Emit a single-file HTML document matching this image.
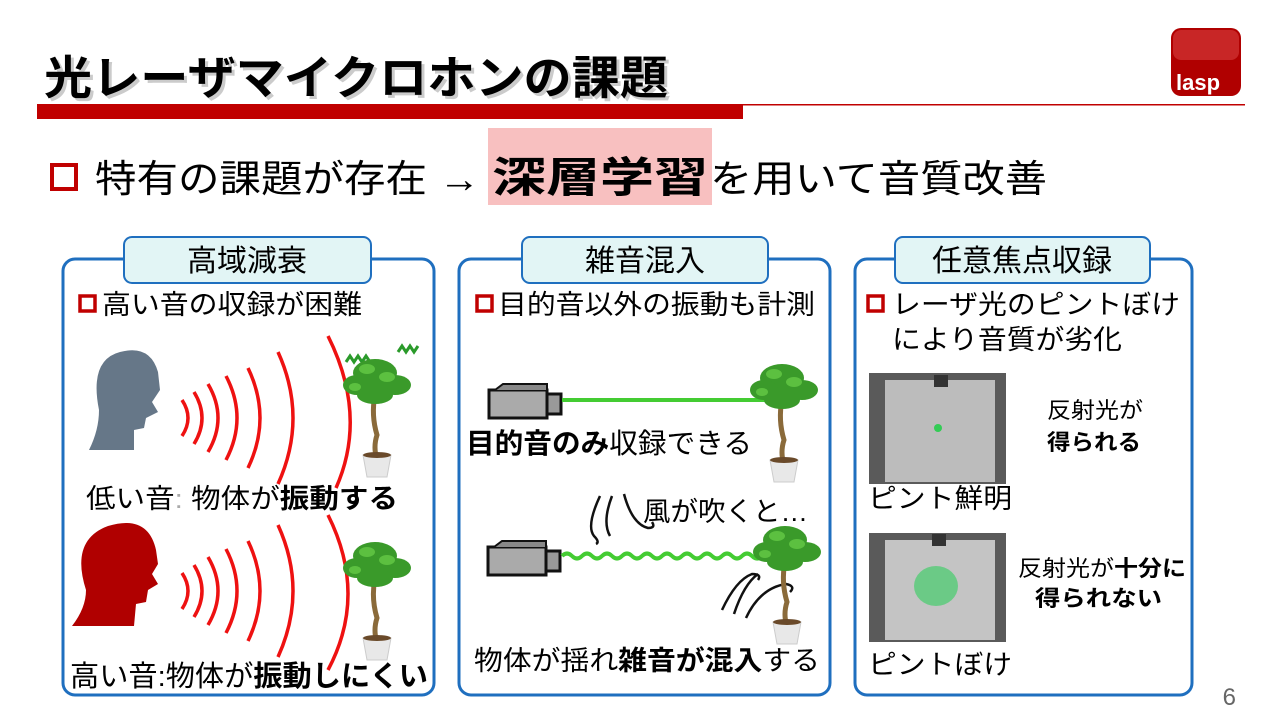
<!DOCTYPE html>
<html><head><meta charset="utf-8"><style>
body{margin:0;background:#fff}
svg{display:block}
text{font-family:"Liberation Sans","Noto Sans CJK JP",sans-serif}
</style></head><body>
<svg width="1280" height="720" viewBox="0 0 1280 720" xmlns="http://www.w3.org/2000/svg">
<defs>
<g id="plant">
<path d="M30 40 q-4 20 2 40 q-4 12 0 25" stroke="#8a6a3a" stroke-width="5" fill="none"/>
<path d="M18 100 h28 l-4 22 h-20z" fill="#e8e8e8" stroke="#ccc"/>
<ellipse cx="32" cy="100" rx="14" ry="3" fill="#6a4a2a"/>
<g fill="#3a9a2a">
<ellipse cx="30" cy="18" rx="22" ry="14"/><ellipse cx="12" cy="30" rx="14" ry="10"/><ellipse cx="50" cy="30" rx="16" ry="10"/><ellipse cx="30" cy="40" rx="18" ry="9"/>
</g>
<g fill="#5cc040"><ellipse cx="22" cy="14" rx="8" ry="5"/><ellipse cx="42" cy="22" rx="8" ry="5"/><ellipse cx="10" cy="32" rx="6" ry="4"/></g>
</g>
<g id="cam">
<rect x="0" y="6" width="58" height="28" fill="#aaa" stroke="#111" stroke-width="3"/>
<path d="M6 6 l8 -6 h44 l-0 6" fill="#888" stroke="#111" stroke-width="2"/>
<rect x="58" y="10" width="14" height="20" fill="#999" stroke="#111" stroke-width="3"/>
</g>
</defs>

<text x="47" y="97" font-size="46" font-weight="bold" fill="#999" opacity=".5" textLength="624" lengthAdjust="spacingAndGlyphs">光レーザマイクロホンの課題</text>
<text x="44" y="94" font-size="46" font-weight="bold" fill="#000" textLength="624" lengthAdjust="spacingAndGlyphs">光レーザマイクロホンの課題</text>
<rect x="37" y="104" width="706" height="15" fill="#c00000"/>
<rect x="743" y="104" width="502" height="1.5" fill="#c00000"/>
<rect x="1171" y="28" width="70" height="68" rx="10" fill="#b00000"/>
<rect x="1173" y="30" width="66" height="30" rx="8" fill="#d84040" opacity=".6"/>
<text x="1176" y="90" font-size="22" font-weight="bold" fill="#fff">lasp</text>

<rect x="52" y="165" width="24" height="24" fill="none" stroke="#c00000" stroke-width="4"/>
<rect x="488" y="128" width="224" height="77" fill="#f8c0c0"/>
<text x="95" y="192" font-size="38" fill="#000" textLength="385" lengthAdjust="spacingAndGlyphs">特有の課題が存在 →</text>
<text x="492" y="192" font-size="42" font-weight="bold" fill="#000" textLength="216" lengthAdjust="spacingAndGlyphs">深層学習</text>
<text x="710" y="192" font-size="38" fill="#000" textLength="337" lengthAdjust="spacingAndGlyphs">を用いて音質改善</text>

<g fill="none" stroke="#1f6fbf" stroke-width="3">
<rect x="63" y="259" width="371" height="436" rx="12"/>
<rect x="459" y="259" width="371" height="436" rx="12"/>
<rect x="855" y="259" width="337" height="436" rx="12"/>
</g>
<g fill="#e2f5f5" stroke="#1f6fbf" stroke-width="2">
<rect x="124" y="237" width="247" height="46" rx="8"/>
<rect x="522" y="237" width="246" height="46" rx="8"/>
<rect x="895" y="237" width="255" height="46" rx="8"/>
</g>
<g font-size="30" text-anchor="middle" fill="#000">
<text x="247" y="271">高域減衰</text>
<text x="645" y="271">雑音混入</text>
<text x="1022" y="271">任意焦点収録</text>
</g>
<g fill="none" stroke="#c00000" stroke-width="3.5">
<rect x="80" y="296" width="15" height="15"/>
<rect x="477" y="296" width="15" height="15"/>
<rect x="868" y="296" width="15" height="15"/>
</g>
<g font-size="27" fill="#000" lengthAdjust="spacingAndGlyphs">
<text x="102" y="314" textLength="260" lengthAdjust="spacingAndGlyphs">高い音の収録が困難</text>
<text x="498" y="314" textLength="317" lengthAdjust="spacingAndGlyphs">目的音以外の振動も計測</text>
<text x="892" y="314" textLength="288" lengthAdjust="spacingAndGlyphs">レーザ光のピントぼけ</text>
<text x="892" y="349" textLength="230" lengthAdjust="spacingAndGlyphs">により音質が劣化</text>
</g>

<path d="M120 352 q30 -8 38 20 l2 18 l-8 12 l6 10 l-12 6 l-2 10 l-10 2 l0 20 l-45 0 q10-20 10-40 q-10-50 21-58z" fill="#667788"/>
<path d="M108 526 q40 -12 48 24 l2 14 l-6 10 l6 10 l-10 6 l-2 12 l-10 2 l-2 22 l-62 0 q14-18 14-36 q-16 -50 22-64z" fill="#b00000"/>
<g fill="none" stroke="#ee1111" stroke-width="3.5">
<path d="M182 400 q12 18 0 36"/><path d="M194 392 q16 26 0 52"/><path d="M208 384 q20 34 0 68"/><path d="M226 376 q22 42 0 84"/><path d="M248 368 q24 50 0 100"/><path d="M278 352 q30 66 0 132"/><path d="M328 336 q40 80 8 152"/>
<path d="M182 573 q12 18 0 36"/><path d="M194 565 q16 26 0 52"/><path d="M208 557 q20 34 0 68"/><path d="M226 549 q22 42 0 84"/><path d="M248 541 q24 50 0 100"/><path d="M278 525 q30 66 0 132"/><path d="M328 515 q40 80 0 155"/>
</g>
<path d="M346 362 l4 -6 l4 6 l4 -6 l4 6 l4 -6 l4 6" stroke="#2a9a2a" stroke-width="3" fill="none"/>
<path d="M398 352 l4 -6 l4 6 l4 -6 l4 6 l4 -6" stroke="#2a9a2a" stroke-width="3" fill="none"/>
<use href="#plant" x="345" y="355"/>
<use href="#plant" x="345" y="538"/>
<text x="86" y="508" font-size="27" fill="#000" textLength="312" lengthAdjust="spacingAndGlyphs">低い音<tspan fill="#aaa">:</tspan>  物体が<tspan font-weight="bold">振動する</tspan></text>
<text x="70" y="686" font-size="29" fill="#000" textLength="358" lengthAdjust="spacingAndGlyphs">高い音:物体が<tspan font-weight="bold">振動しにくい</tspan></text>

<use href="#cam" x="489" y="384"/>
<line x1="562" y1="400" x2="775" y2="400" stroke="#44cc33" stroke-width="4"/>
<use href="#plant" x="752" y="360"/>
<text x="466" y="453" font-size="28" fill="#000" textLength="286" lengthAdjust="spacingAndGlyphs"><tspan font-weight="bold">目的音のみ</tspan>収録できる</text>
<g fill="none" stroke="#111" stroke-width="2.5">
<path d="M600 496 q-14 30 -6 40 q6 6 2 8"/><path d="M612 496 q-10 26 -2 40"/><path d="M624 494 q8 30 24 34 q8 0 4 -6"/>
<path d="M722 610 q14 -30 30 -36 q10 0 6 6"/><path d="M734 614 q10 -30 24 -40"/><path d="M746 618 q14 -30 40 -34 q10 2 4 8"/>
</g>
<text x="643" y="521" font-size="27" fill="#000" textLength="165" lengthAdjust="spacingAndGlyphs">風が吹くと…</text>
<use href="#cam" x="488" y="541"/>
<path d="M562 556 q5 -5 10 0 t10 0 t10 0 t10 0 t10 0 t10 0 t10 0 t10 0 t10 0 t10 0 t10 0 t10 0 t10 0 t10 0 t10 0 t10 0 t10 0 t10 0 t10 0 t10 0 t10 0" stroke="#44cc33" stroke-width="4" fill="none"/>
<use href="#plant" x="755" y="522"/>
<text x="474" y="670" font-size="27" fill="#000" textLength="346" lengthAdjust="spacingAndGlyphs">物体が揺れ<tspan font-weight="bold">雑音が混入</tspan>する</text>

<rect x="869" y="373" width="137" height="111" fill="#5a5a5a"/>
<rect x="885" y="380" width="110" height="102" fill="#bcbcbc"/>
<rect x="934" y="375" width="14" height="12" fill="#333"/>
<circle cx="938" cy="428" r="4" fill="#33cc55"/>
<rect x="869" y="533" width="137" height="109" fill="#5a5a5a"/>
<rect x="885" y="540" width="110" height="100" fill="#c4c4c4"/>
<rect x="932" y="534" width="14" height="12" fill="#333"/>
<ellipse cx="936" cy="586" rx="22" ry="20" fill="#55cc77" opacity=".8"/>
<g font-size="22" fill="#000">
<text x="1047" y="418" textLength="96" lengthAdjust="spacingAndGlyphs">反射光が</text>
<text x="1047" y="450" font-weight="bold" textLength="94" lengthAdjust="spacingAndGlyphs">得られる</text>
<text x="1018" y="576" textLength="168" lengthAdjust="spacingAndGlyphs">反射光が<tspan font-weight="bold">十分に</tspan></text>
<text x="1035" y="606" font-weight="bold" textLength="127" lengthAdjust="spacingAndGlyphs">得られない</text>
</g>
<text x="868" y="508" font-size="27" fill="#000" textLength="144" lengthAdjust="spacingAndGlyphs">ピント鮮明</text>
<text x="868" y="674" font-size="27" fill="#000" textLength="144" lengthAdjust="spacingAndGlyphs">ピントぼけ</text>

<text x="1236" y="705" font-size="24" fill="#666" text-anchor="end">6</text>
</svg>
</body></html>
